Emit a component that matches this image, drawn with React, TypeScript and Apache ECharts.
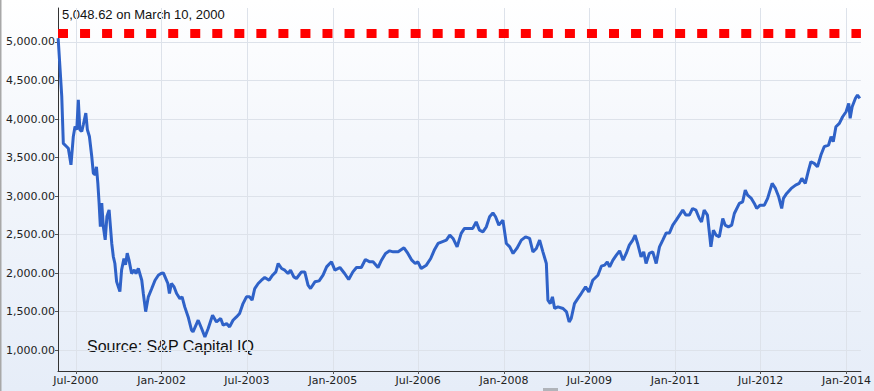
import React, { useEffect, useRef } from "react";
import * as echarts from "echarts";

// ---- Data ----
const dates: string[] = [
  "2000-03-10","2000-04-02","2000-04-12","2000-05-04","2000-05-14","2000-05-31","2000-06-15","2000-06-26",
  "2000-07-07","2000-07-17","2000-07-27","2000-08-08","2000-08-18","2000-09-03","2000-09-13","2000-09-26",
  "2000-10-11","2000-10-21","2000-11-01","2000-11-10","2000-11-19","2000-11-27","2000-12-05","2000-12-14",
  "2000-12-24","2001-01-05","2001-01-16","2001-01-30","2001-02-16","2001-02-26","2001-03-08","2001-03-19",
  "2001-04-09","2001-04-20","2001-05-05","2001-05-15","2001-05-26","2001-06-06","2001-06-23","2001-07-10",
  "2001-07-21","2001-08-05","2001-08-27","2001-09-06","2001-09-21","2001-10-08","2001-10-30","2001-11-20",
  "2001-12-11","2001-12-28","2002-01-12","2002-01-23","2002-02-10","2002-02-20","2002-03-05","2002-03-22",
  "2002-04-07","2002-04-28","2002-05-12","2002-05-29","2002-06-20","2002-07-11","2002-07-21","2002-08-23",
  "2002-09-14","2002-10-05","2002-10-26","2002-11-23","2002-12-18","2003-01-14","2003-01-30","2003-02-21",
  "2003-03-12","2003-04-03","2003-04-25","2003-05-15","2003-06-06","2003-06-28","2003-07-18","2003-08-03",
  "2003-08-20","2003-09-11","2003-10-02","2003-10-23","2003-11-20","2003-12-12","2004-01-02","2004-01-17",
  "2004-02-08","2004-02-28","2004-03-20","2004-04-05","2004-04-26","2004-05-13","2004-06-14","2004-07-05",
  "2004-07-26","2004-08-11","2004-09-08","2004-10-05","2004-10-30","2004-11-22","2004-12-12","2004-12-23",
  "2005-01-14","2005-02-15","2005-03-17","2005-04-12","2005-05-09","2005-06-01","2005-07-02","2005-07-28",
  "2005-08-25","2005-09-15","2005-10-17","2005-11-08","2005-12-04","2005-12-30","2006-01-22","2006-02-23",
  "2006-04-01","2006-04-26","2006-05-21","2006-06-12","2006-06-29","2006-07-20","2006-08-22","2006-09-19",
  "2006-10-14","2006-11-05","2006-11-30","2006-12-28","2007-01-19","2007-02-09","2007-03-07","2007-04-02",
  "2007-04-23","2007-05-25","2007-06-15","2007-07-07","2007-07-28","2007-08-19","2007-09-10","2007-10-01",
  "2007-10-22","2007-11-08","2007-11-29","2007-12-25","2008-01-16","2008-02-07","2008-02-28","2008-03-23",
  "2008-04-21","2008-05-18","2008-06-13","2008-07-04","2008-07-26","2008-08-16","2008-09-06","2008-09-28",
  "2008-10-08","2008-10-23","2008-11-06","2008-11-20","2008-12-11","2009-01-13","2009-02-04","2009-02-21",
  "2009-03-06","2009-03-27","2009-04-17","2009-05-09","2009-06-06","2009-06-27","2009-07-22","2009-08-24",
  "2009-09-15","2009-10-06","2009-10-23","2009-11-07","2009-11-28","2009-12-20","2010-01-10","2010-02-01",
  "2010-02-21","2010-03-13","2010-04-04","2010-04-19","2010-05-05","2010-05-27","2010-06-13","2010-06-28",
  "2010-07-19","2010-08-10","2010-09-01","2010-09-22","2010-10-13","2010-11-04","2010-11-25","2010-12-16",
  "2011-01-07","2011-01-28","2011-02-18","2011-03-10","2011-04-01","2011-04-22","2011-05-13","2011-06-04",
  "2011-06-18","2011-07-05","2011-07-26","2011-08-17","2011-09-02","2011-09-19","2011-10-10","2011-11-01",
  "2011-11-16","2011-12-07","2011-12-28","2012-01-14","2012-02-15","2012-03-07","2012-03-24","2012-04-08",
  "2012-04-30","2012-05-21","2012-06-05","2012-06-27","2012-07-24","2012-08-14","2012-09-12","2012-10-03",
  "2012-10-24","2012-11-12","2012-11-23","2012-12-14","2013-01-12","2013-02-09","2013-03-04","2013-03-21",
  "2013-04-12","2013-05-03","2013-05-18","2013-06-08","2013-06-29","2013-07-21","2013-08-11","2013-09-08",
  "2013-09-24","2013-10-08","2013-10-25","2013-11-16","2013-12-07","2013-12-29","2014-01-15","2014-01-24",
  "2014-02-06","2014-02-27","2014-03-12","2014-03-27",
];

const values: number[] = [
  5048.62,4294,3684,3640,3620,3406,3774,3904,
  3861,4251,3861,3839,3926,4077,3861,3774,
  3514,3299,3277,3381,3165,2909,2605,2909,
  2605,2432,2735,2822,2386,2216,2126,1891,
  1761,2043,2191,2108,2259,2173,1996,2043,
  1996,2061,1909,1736,1501,1693,1801,1909,
  1974,1996,2004,1952,1866,1736,1866,1822,
  1736,1671,1693,1563,1433,1264,1240,1390,
  1282,1173,1282,1455,1368,1412,1325,1347,
  1303,1390,1433,1477,1606,1693,1693,1650,
  1801,1866,1909,1944,1909,1974,2017,2126,
  2061,2039,1996,2039,1952,1931,2017,2017,
  1844,1801,1888,1900,1974,2082,2126,2147,
  2039,2074,1996,1918,2017,2074,2074,2178,
  2147,2147,2074,2169,2256,2290,2277,2277,
  2329,2256,2169,2126,2147,2061,2104,2191,
  2308,2386,2407,2429,2494,2451,2342,2516,
  2581,2581,2581,2666,2559,2537,2602,2732,
  2783,2732,2624,2689,2386,2342,2256,2321,
  2429,2472,2451,2277,2321,2429,2277,2126,
  1650,1606,1693,1542,1563,1542,1498,1368,
  1412,1606,1671,1736,1822,1757,1909,1974,
  2091,2104,2147,2082,2169,2234,2290,2169,
  2256,2364,2429,2494,2386,2212,2277,2126,
  2256,2277,2126,2342,2429,2523,2523,2624,
  2689,2754,2818,2754,2754,2840,2818,2710,
  2666,2818,2754,2342,2559,2494,2472,2710,
  2624,2602,2624,2775,2905,2926,3078,3013,
  2975,2905,2840,2883,2883,2970,3165,3100,
  2991,2840,2970,3035,3100,3143,3165,3230,
  3165,3338,3446,3425,3381,3533,3641,3663,
  3771,3706,3900,3944,4030,4095,4204,4009,
  4160,4269,4312,4269,
];

const xTickDates: string[] = [
  "2000-07-01","2002-01-01","2003-07-01","2005-01-01","2006-07-01",
  "2008-01-01","2009-07-01","2011-01-01","2012-07-01","2014-01-01",
];
const xTickLabels: string[] = [
  "Jul-2000","Jan-2002","Jul-2003","Jan-2005","Jul-2006",
  "Jan-2008","Jul-2009","Jan-2011","Jul-2012","Jan-2014",
];
const yTickValues: number[] = [1000, 1500, 2000, 2500, 3000, 3500, 4000, 4500, 5000];

const peakLabel = "5,048.62 on March 10, 2000";
const peakLineLevel = 5110;
const sourceText = "Source: S&P Capital IQ";

function toTs(s: string): number {
  const [y, m, d] = s.split("-").map(Number);
  return Date.UTC(y, m - 1, d);
}

export default function App() {
  const ref = useRef<HTMLDivElement>(null);

  useEffect(() => {
    if (!ref.current) return;
    const chart = echarts.init(ref.current, undefined, { renderer: "svg" });
    const tickTs = xTickDates.map(toTs);
    const seriesData = dates.map((d, i) => [toTs(d), values[i]]);

    chart.setOption({
      animation: false,
      backgroundColor: "transparent",
      grid: { left: 58, right: 12, top: 8, bottom: 20, containLabel: false },
      xAxis: {
        type: "value",
        min: toTs("2000-03-09"),
        max: toTs("2014-04-03"),
        axisLine: { show: true, onZero: false, lineStyle: { color: "#333", width: 1 } },
        axisTick: { show: true, customValues: tickTs, length: 3, lineStyle: { color: "#555" } },
        axisLabel: {
          customValues: tickTs,
          color: "#222",
          fontFamily: "DejaVu Sans",
          fontSize: 11,
          margin: 4,
          hideOverlap: false,
          formatter: (v: number) => {
            let best = 0;
            for (let i = 0; i < tickTs.length; i++) {
              if (Math.abs(tickTs[i] - v) < Math.abs(tickTs[best] - v)) best = i;
            }
            return xTickLabels[best];
          },
        },
        splitLine: { show: true, lineStyle: { color: "#dde2ea", width: 1 } },
      },
      yAxis: {
        type: "value",
        min: 731,
        max: 5441,
        axisLine: { show: true, onZero: false, lineStyle: { color: "#333", width: 1 } },
        axisTick: { show: true, customValues: yTickValues, length: 3, lineStyle: { color: "#555" } },
        axisLabel: {
          customValues: yTickValues,
          color: "#222",
          fontFamily: "DejaVu Sans",
          fontSize: 11,
          margin: 3,
          formatter: (v: number) =>
            v.toLocaleString("en-US", { minimumFractionDigits: 2, maximumFractionDigits: 2 }),
        },
        splitLine: { show: true, lineStyle: { color: "#dde2ea", width: 1 } },
      },
      series: [
        {
          type: "line",
          data: seriesData,
          showSymbol: false,
          symbol: "none",
          lineStyle: { color: "#2f62c8", width: 3 },
          markLine: {
            silent: true,
            symbol: ["none", "none"],
            label: { show: false },
            lineStyle: { color: "#ff0000", width: 9, type: [10, 12.04], opacity: 1 },
            data: [{ yAxis: peakLineLevel }],
          },
        },
      ],
      graphic: [
        {
          type: "text",
          left: 62,
          top: 8,
          style: { text: peakLabel, fill: "#111", font: "13px 'Liberation Sans', Arial, sans-serif" },
        },
        {
          type: "text",
          left: 87,
          top: 338,
          style: { text: sourceText, fill: "#111", font: "16px 'Liberation Sans', Arial, sans-serif" },
        },
        {
          type: "rect",
          left: 0,
          top: 0,
          shape: { width: 1.5, height: 391 },
          style: { fill: "#a8a8a8" },
        },
        {
          type: "rect",
          left: 543,
          top: 388,
          shape: { width: 15, height: 3 },
          style: { fill: "#b0b4ba" },
        },
      ],
    });
    return () => chart.dispose();
  }, []);

  return (
    <div
      style={{
        position: "fixed",
        left: 0,
        top: 0,
        width: 874,
        height: 391,
        background: "linear-gradient(to bottom, #ffffff 0%, #f4f7fc 35%, #e6edf8 100%)",
      }}
    >
      <div ref={ref} style={{ width: 874, height: 391 }} />
    </div>
  );
}
